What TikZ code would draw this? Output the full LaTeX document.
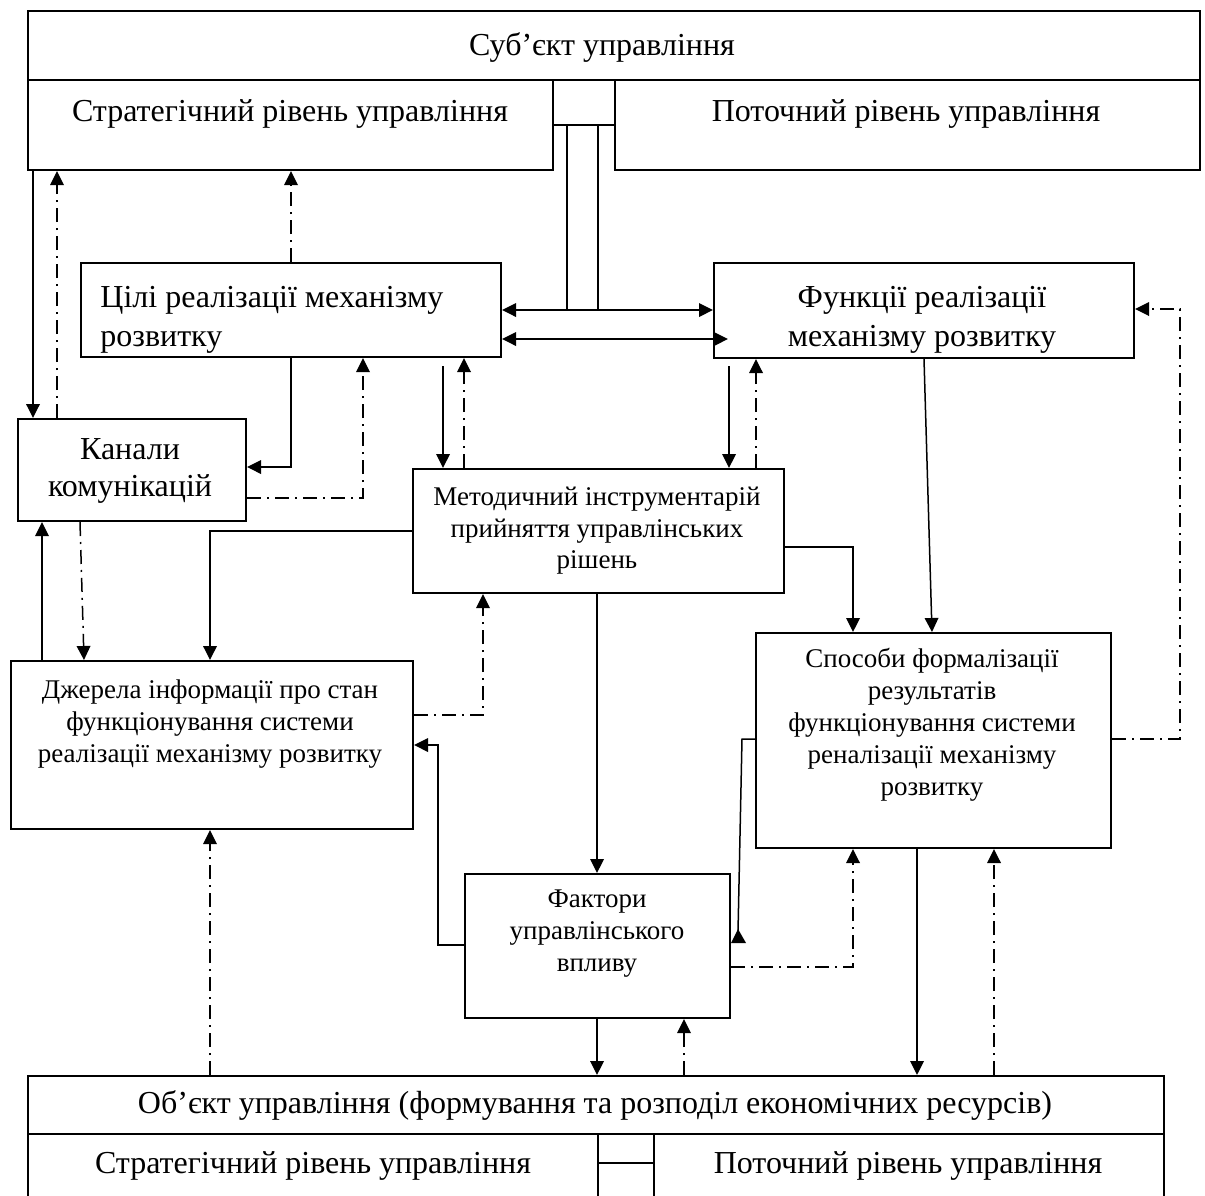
\documentclass[tikz,border=0pt]{standalone}
\usepackage{fontspec}
\setmainfont{Liberation Serif}
\usetikzlibrary{arrows.meta}
\tikzset{
  Tr/.tip={Triangle[length=7pt,width=6.8pt]},
  box/.style={draw, line width=1pt, inner sep=0pt, anchor=north west},
  ln/.style={line width=0.75pt},
  con/.style={ln, -Tr},
  dd/.style={con, dash pattern=on 7pt off 3pt on 1pt off 3pt},
  txt/.style={inner sep=0pt, yshift=-1.4pt},
  big/.style={txt, font=\fontsize{16}{19.3}\selectfont, align=center},
  mid/.style={txt, font=\fontsize{13.5}{15.9}\selectfont, align=center},
}
\newcommand\mkbox[5]{\node[box, minimum width={(#4-#2)*0.5pt}, minimum height={(#5-#3)*0.5pt}] (#1) at (#2,#3) {};}
\begin{document}
\begin{tikzpicture}[x=0.5pt, y=-0.5pt]
\clip (0,0) rectangle (1205,1195);
% boxes
\mkbox{subj}{27}{10}{1199}{79}
\mkbox{strat}{27}{79}{552}{169}
\mkbox{link}{552}{79}{614}{124}
\mkbox{cur}{614}{79}{1199}{169}
\mkbox{celi}{80}{262}{500}{356}
\mkbox{func}{713}{262}{1133}{357}
\mkbox{kanal}{17}{418}{245}{520}
\mkbox{metod}{412}{468}{783}{592}
\mkbox{dzh}{10}{660}{412}{828}
\mkbox{sposob}{755}{632}{1110}{847}
\mkbox{fakt}{464}{873}{729}{1017}
\mkbox{obj}{27}{1075}{1163}{1133}
\mkbox{bstrat}{27}{1133}{597}{1210}
\mkbox{bcur}{653}{1133}{1163}{1210}
% texts
\node[big] (tsubj) at (602,45) {Суб’єкт управління};
\node[big] (tstrat) at (290,111) {Стратегічний рівень управління};
\node[big] (tcur) at (906,111) {Поточний рівень управління};
\node[big, align=left, anchor=west] (tceli) at (100,317) {Цілі реалізації механізму\\розвитку};
\node[big] (tfunc) at (922,317) {Функції реалізації\\механізму розвитку};
\node[big, font=\fontsize{16}{18.2}\selectfont] (tkanal) at (130,468) {Канали\\комунікацій};
\node[mid] (tmetod) at (597,528) {Методичний інструментарій\\прийняття управлінських\\рішень};
\node[mid] (tdzh) at (210,721) {Джерела інформації про стан\\функціонування системи\\реалізації механізму розвитку};
\node[mid] (tsposob) at (932,722) {Способи формалізації\\результатів\\функціонування системи\\реналізації механізму\\розвитку};
\node[mid] (tfakt) at (597,931) {Фактори\\управлінського\\впливу};
\node[big] (tobj) at (595,1103) {Об’єкт управління (формування та розподіл економічних ресурсів)};
\node[big] (tbstrat) at (313,1163) {Стратегічний рівень управління};
\node[big] (tbcur) at (908,1163) {Поточний рівень управління};
% central link between the two levels of the subject
\draw[ln] (link.south -| 567,0) -- (567,310);
\draw[ln] (link.south -| 598,0) -- (598,310);
\draw[ln] (bstrat.east |- 0,1163) -- (bcur.west |- 0,1163);
% connectors
\draw[con] (strat.south -| 33,0) -- (kanal.north -| 33,0);
\draw[dd] (kanal.north -| 57,0) -- (strat.south -| 57,0);
\draw[dd] (celi.north -| 291,0) -- (strat.south -| 291,0);
\draw[ln, Tr-Tr] (celi.east |- 0,310) -- (func.west |- 0,310);
\draw[ln, Tr-Tr] (celi.east |- 0,339) -- (728,339);
\draw[con] (celi.south -| 291,0) |- (kanal.east |- 0,467);
\draw[dd] (kanal.east |- 0,498) -| (celi.south -| 363,0);
\draw[con] (443,366) -- (metod.north -| 443,0);
\draw[dd] (metod.north -| 464,0) -- (celi.south -| 464,0);
\draw[con] (729,366) -- (metod.north -| 729,0);
\draw[dd] (metod.north -| 756,0) -- (func.south -| 756,0);
\draw[con] (metod.west |- 0,531) -| (dzh.north -| 210,0);
\draw[dd] (kanal.south -| 80,0) -- (dzh.north -| 84,0);
\draw[con] (dzh.north -| 42,0) -- (kanal.south -| 42,0);
\draw[dd] (dzh.east |- 0,715) -| (metod.south -| 483,0);
\draw[con] (metod.east |- 0,547) -| (sposob.north -| 853,0);
\draw[con] (func.south -| 924,0) -- (sposob.north -| 932,0);
\draw[dd] (sposob.east |- 0,739) -| (1180,309) -- (func.east |- 0,309);
\draw[con] (metod.south -| 597,0) -- (fakt.north -| 597,0);
\draw[con] (fakt.west |- 0,945) -| (438,745) -- (dzh.east |- 0,745);
\draw[ln] (sposob.west |- 0,739) -- (742,739) -- (738,932);
\fill (fakt.east |- 0,943) -- (746,943) -- (738,929) -- cycle;
\draw[dd] (fakt.east |- 0,967) -| (sposob.south -| 853,0);
\draw[con] (fakt.south -| 597,0) -- (obj.north -| 597,0);
\draw[dd] (obj.north -| 684,0) -- (fakt.south -| 684,0);
\draw[con] (sposob.south -| 917,0) -- (obj.north -| 917,0);
\draw[dd] (obj.north -| 994,0) -- (sposob.south -| 994,0);
\draw[dd] (obj.north -| 210,0) -- (dzh.south -| 210,0);
\end{tikzpicture}
\end{document}
